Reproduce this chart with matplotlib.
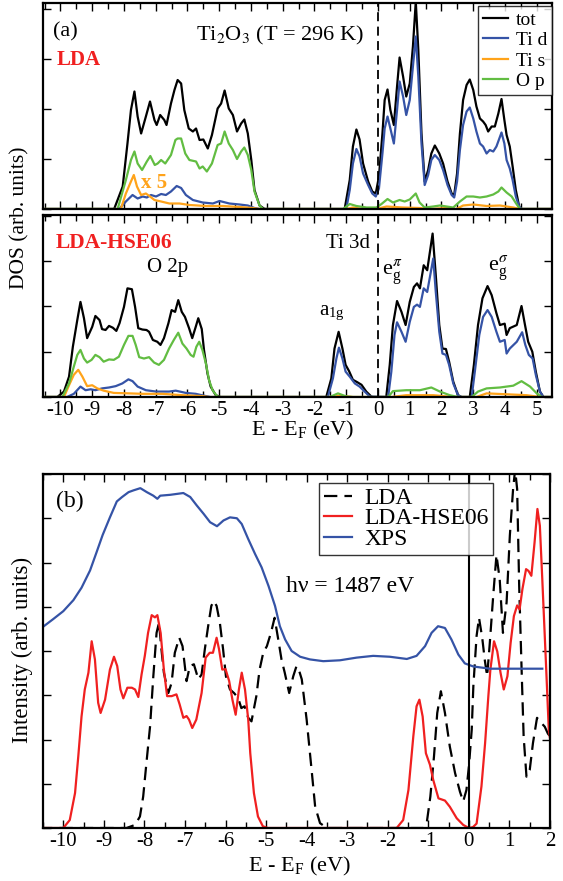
import matplotlib
matplotlib.use("Agg")
import matplotlib.pyplot as plt
from matplotlib.ticker import MultipleLocator

plt.rcParams['font.family'] = ['Liberation Serif', 'DejaVu Serif']
plt.rcParams['mathtext.fontset'] = 'stix'

# ---------------- colours ----------------
C_TOT = "black"
C_TID = "#3553a6"
C_TIS = "#ffa31a"
C_OP = "#62bd42"
C_RED = "#f02020"
C_XPS = "#3553a6"

# ================================
# (a) LDA  -- DOS
# ================================
lda_tot_x = [-10.6, -8.31, -8.04, -7.89, -7.78, -7.67, -7.57, -7.46, -7.31, -7.18, -7.04, -6.97, -6.86,
             -6.73, -6.66, -6.52, -6.41, -6.31, -6.20, -6.10, -5.96, -5.83, -5.73, -5.62, -5.50, -5.36,
             -5.23, -5.05, -4.94, -4.83, -4.70, -4.57, -4.44, -4.31, -4.21, -4.10, -3.99, -3.89, -3.73,
             -3.57, -1.05, -0.89, -0.79, -0.68, -0.58, -0.47, -0.31, -0.18, -0.07, 0.03, 0.14, 0.21, 0.30,
             0.39, 0.50, 0.60, 0.68, 0.79, 0.89, 1.00, 1.10, 1.19, 1.27, 1.37, 1.47, 1.58, 1.68, 1.79,
             1.93, 2.05, 2.19, 2.32, 2.40, 2.49, 2.58, 2.68, 2.79, 2.89, 3.00, 3.10, 3.21, 3.31, 3.39,
             3.47, 3.58, 3.68, 3.79, 3.89, 3.98, 4.05, 4.15, 4.24, 4.34, 4.45, 4.52, 5.6]
lda_tot_y = [0, 0, 0.45, 1.31, 1.98, 2.35, 1.85, 1.51, 1.85, 2.15, 1.78, 1.68, 1.88,
             1.78, 1.68, 2.11, 2.38, 2.58, 2.51, 1.98, 1.61, 1.55, 1.61, 1.38, 1.39, 1.21,
             1.48, 2.01, 2.11, 2.37, 2.01, 1.88, 1.55, 1.71, 1.79, 1.51, 0.98, 0.38, 0.07,
             0, 0, 0.58, 1.25, 1.59, 1.39, 0.91, 0.55, 0.35, 0.31, 0.65, 1.51, 2.18, 2.39,
             1.98, 1.68, 2.45, 3.03, 2.65, 2.25, 2.51, 3.25, 4.15, 3.18, 1.51, 0.55, 0.78, 1.11, 1.27,
             1.11, 0.91, 0.55, 0.31, 0.28, 0.71, 1.51, 2.18, 2.48, 2.59, 2.38, 2.05, 1.81, 1.75, 1.68,
             1.55, 1.65, 1.65, 1.91, 2.20, 1.78, 1.48, 1.25, 0.85, 0.38, 0.04, 0, 0]

lda_tid_x = [-10.6, -8.15, -7.94, -7.73, -7.57, -7.41, -7.28, -7.15, -6.99, -6.83, -6.68, -6.52, -6.34,
             -6.20, -6.05, -5.83, -5.52, -5.20, -4.99, -4.68, -4.36, -4.10, -3.89, -3.73,
             -1.00, -0.89, -0.79, -0.68, -0.58, -0.47, -0.31, -0.18, -0.07, 0.03, 0.14, 0.21, 0.30, 0.39,
             0.50, 0.60, 0.68, 0.79, 0.89, 1.00, 1.10, 1.19, 1.27, 1.37, 1.47, 1.58, 1.68, 1.79, 1.93,
             2.05, 2.19, 2.32, 2.40, 2.49, 2.58, 2.68, 2.79, 2.89, 3.00, 3.10, 3.21, 3.31, 3.42, 3.52,
             3.63, 3.73, 3.89, 3.98, 4.05, 4.15, 4.24, 4.34, 4.45, 4.52, 5.6]
lda_tid_y = [0, 0, 0.15, 0.28, 0.21, 0.25, 0.23, 0.28, 0.25, 0.30, 0.28, 0.35, 0.46,
             0.42, 0.28, 0.18, 0.13, 0.11, 0.16, 0.11, 0.09, 0.07, 0.02, 0,
             0, 0.38, 0.91, 1.20, 1.05, 0.71, 0.48, 0.31, 0.25, 0.41, 1.11, 1.61, 1.85, 1.61,
             1.31, 1.98, 2.55, 2.25, 1.88, 2.18, 2.85, 3.45, 2.65, 1.31, 0.48, 0.68, 0.98, 1.08, 0.98,
             0.78, 0.48, 0.28, 0.23, 0.55, 1.18, 1.68, 1.95, 2.03, 1.81, 1.55, 1.31, 1.25, 1.11, 1.18,
             1.15, 1.25, 1.53, 1.31, 0.98, 0.81, 0.58, 0.25, 0.04, 0, 0]

lda_tis_x = [-10.6, -8.10, -7.94, -7.78, -7.69, -7.59, -7.46, -7.31, -7.18, -7.04, -6.83, -6.57, -6.25,
             -5.94, -5.41, -4.89, -4.36, -3.94, -3.73, -1.00, -0.79, -0.47, -0.05, 0.27, 0.79, 1.31,
             1.63, 2.16, 2.47, 2.68, 3.00, 3.42, 3.84, 4.26, 4.47, 5.6]
lda_tis_y = [0, 0, 0.31, 0.55, 0.68, 0.45, 0.28, 0.31, 0.25, 0.18, 0.15, 0.11, 0.11,
             0.08, 0.06, 0.06, 0.04, 0.02, 0, 0, 0.03, 0, 0, 0.05, 0.03, 0.02,
             0, 0.02, 0, 0.07, 0.09, 0.06, 0.07, 0.03, 0, 0]

lda_op_x = [-10.6, -8.20, -7.94, -7.78, -7.67, -7.57, -7.43, -7.28, -7.17, -7.03, -6.94, -6.83, -6.70,
            -6.52, -6.38, -6.31, -6.20, -6.07, -5.94, -5.73, -5.62, -5.52, -5.39, -5.23, -5.05, -4.94,
            -4.83, -4.70, -4.57, -4.44, -4.31, -4.21, -4.10, -3.99, -3.89, -3.73, -3.62,
            -1.10, -0.89, -0.68, -0.36, -0.05, 0.11, 0.30, 0.47, 0.68, 0.84, 1.00, 1.19, 1.31, 1.47,
            1.74, 1.95, 2.16, 2.37, 2.58, 2.79, 3.00, 3.21, 3.42, 3.63, 3.79, 3.89, 4.05, 4.21, 4.34,
            4.47, 5.6]
lda_op_y = [0, 0, 0.58, 0.98, 1.15, 0.91, 0.78, 0.95, 1.06, 0.88, 0.91, 0.98, 0.91,
            1.08, 1.38, 1.41, 1.41, 1.11, 0.98, 0.95, 0.81, 0.85, 0.75, 0.91, 1.28, 1.31,
            1.55, 1.31, 1.18, 1.00, 1.15, 1.23, 1.08, 0.78, 0.35, 0.07, 0,
            0, 0.10, 0.06, 0.03, 0.03, 0.10, 0.20, 0.13, 0.18, 0.15, 0.19, 0.31, 0.13, 0.03,
            0.05, 0.07, 0.05, 0.03, 0.15, 0.25, 0.25, 0.23, 0.25, 0.29, 0.35, 0.43, 0.33, 0.25, 0.12,
            0, 0]

# ================================
# (a) LDA-HSE06 -- DOS
# ================================
hse_tot_x = [-10.6, -10.10, -9.89, -9.73, -9.61, -9.47, -9.37, -9.26, -9.16, -9.00, -8.90, -8.77, -8.69,
             -8.58, -8.47, -8.35, -8.24, -8.14, -8.00, -7.89, -7.75, -7.65, -7.55, -7.42, -7.29, -7.21,
             -7.09, -6.95, -6.85, -6.74, -6.60, -6.50, -6.39, -6.29, -6.18, -6.08, -5.95, -5.85, -5.74,
             -5.66, -5.55, -5.48, -5.37, -5.27, -5.11, -4.96,
             -1.63, -1.47, -1.37, -1.24, -1.12, -1.02, -0.91, -0.79, -0.66, -0.52, -0.37, -0.21, -0.16,
             0.26, 0.37, 0.47, 0.60, 0.74, 0.87, 1.00, 1.13, 1.23, 1.32, 1.44, 1.55, 1.72, 1.82, 1.93,
             2.03, 2.14, 2.24, 2.37, 2.52, 2.63, 2.89, 3.02, 3.15, 3.29, 3.45, 3.58, 3.73, 3.84, 3.99,
             4.05, 4.15, 4.37, 4.52, 4.63, 4.73, 4.86, 4.97, 5.10, 5.21, 5.6]
hse_tot_y = [0, 0, 0.12, 0.45, 1.11, 1.70, 2.10, 1.74, 1.30, 1.55, 1.79, 1.70, 1.50,
             1.48, 1.57, 1.53, 1.46, 1.63, 1.99, 2.40, 2.38, 1.99, 1.52, 1.49, 1.48, 1.44,
             1.26, 1.22, 1.15, 1.30, 1.63, 1.92, 1.88, 2.14, 1.88, 1.77, 1.52, 1.30, 1.55,
             1.74, 1.50, 1.04, 0.52, 0.23, 0.04, 0,
             0, 0.41, 1.07, 1.44, 1.07, 0.71, 0.57, 0.38, 0.33, 0.27, 0.12, 0.01, 0,
             0, 0.71, 1.59, 2.12, 1.88, 1.59, 2.10, 2.43, 2.51, 2.40, 2.91, 2.80, 3.61, 2.69, 1.59,
             1.07, 1.06, 0.78, 0.34, 0.04, 0, 0, 0.71, 1.59, 2.18, 2.45, 2.25, 1.85, 1.59, 1.62,
             1.37, 1.52, 1.59, 2.01, 1.59, 1.22, 1.00, 0.56, 0.12, 0, 0]

hse_tid_x = [-10.6, -9.79, -9.58, -9.37, -9.21, -9.05, -8.90, -8.69, -8.47, -8.26, -8.05, -7.86, -7.73,
             -7.57, -7.31, -6.99, -6.58, -6.37, -6.05, -5.74, -5.42, -5.27,
             -1.58, -1.42, -1.31, -1.23, -1.12, -1.02, -0.89, -0.73, -0.58, -0.42, -0.26, 0.32, 0.42,
             0.52, 0.60, 0.74, 0.87, 1.00, 1.13, 1.23, 1.32, 1.44, 1.55, 1.74, 1.82, 1.93, 2.03, 2.14,
             2.24, 2.37, 2.52, 2.63, 2.95, 3.05, 3.19, 3.31, 3.45, 3.58, 3.73, 3.84, 3.99, 4.05, 4.15,
             4.37, 4.54, 4.64, 4.75, 4.87, 4.97, 5.10, 5.21, 5.6]
hse_tid_y = [0, 0, 0.07, 0.23, 0.15, 0.17, 0.15, 0.19, 0.21, 0.24, 0.30, 0.39, 0.35,
             0.23, 0.15, 0.12, 0.12, 0.14, 0.09, 0.07, 0.02, 0,
             0, 0.41, 0.85, 1.09, 0.85, 0.56, 0.45, 0.30, 0.23, 0.12, 0.01, 0, 0.56,
             1.37, 1.65, 1.44, 1.22, 1.66, 1.99, 2.04, 1.99, 2.40, 2.32, 3.06, 2.32, 1.44, 0.96, 0.93,
             0.71, 0.30, 0.04, 0, 0, 0.56, 1.37, 1.77, 1.92, 1.77, 1.44, 1.22, 1.26, 0.96, 1.07,
             1.22, 1.43, 1.15, 0.93, 0.85, 0.49, 0.12, 0, 0]

hse_tis_x = [-10.6, -9.89, -9.73, -9.58, -9.44, -9.31, -9.16, -9.00, -8.84, -8.64, -8.32, -7.84, -7.42,
             -6.79, -6.16, -5.53, -5.32, -1.42, -1.21, -0.79, 0.42, 0.89, 1.74, 2.37, 3.10, 3.42, 4.05,
             4.68, 5.10, 5.6]
hse_tis_y = [0, 0, 0.26, 0.49, 0.60, 0.45, 0.24, 0.26, 0.19, 0.14, 0.09, 0.08, 0.07,
             0.07, 0.04, 0.02, 0, 0, 0.03, 0, 0, 0.04, 0.04, 0, 0, 0.08, 0.06,
             0.04, 0, 0]

hse_op_x = [-10.6, -9.94, -9.73, -9.58, -9.47, -9.37, -9.26, -9.16, -9.02, -8.90, -8.77, -8.64, -8.47,
            -8.32, -8.16, -8.00, -7.86, -7.73, -7.63, -7.52, -7.37, -7.21, -7.05, -6.90, -6.74, -6.58,
            -6.43, -6.29, -6.16, -6.03, -5.90, -5.81, -5.72, -5.63, -5.53, -5.42, -5.32, -5.21, -5.06,
            -4.96, -1.52, -1.26, -0.99, -0.79, 0.32, 0.47, 0.89, 1.32, 1.68, 1.95, 2.26, 2.52, 2.95,
            3.15, 3.42, 3.84, 4.26, 4.52, 4.79, 5.00, 5.15, 5.6]
hse_op_y = [0, 0, 0.30, 0.67, 0.93, 1.04, 0.85, 0.76, 0.82, 0.93, 0.88, 0.78, 0.83,
            0.82, 0.89, 1.15, 1.35, 1.35, 1.15, 0.88, 0.85, 0.88, 0.76, 0.71, 0.82, 1.07,
            1.26, 1.42, 1.18, 1.07, 0.93, 0.89, 1.11, 1.22, 1.04, 0.74, 0.37, 0.15, 0.01,
            0, 0, 0.08, 0.01, 0, 0, 0.13, 0.15, 0.15, 0.21, 0.12, 0.04, 0, 0,
            0.12, 0.19, 0.21, 0.25, 0.35, 0.23, 0.08, 0, 0]

# ================================
# (b) spectra
# ================================
xps_x = [-10.48, -10.25, -10.00, -9.75, -9.55, -9.34, -9.18, -9.03, -8.85, -8.68, -8.55, -8.39, -8.27,
         -8.10, -7.94, -7.78, -7.68, -7.61, -7.36, -7.04, -6.87, -6.71, -6.54, -6.38, -6.21, -6.05,
         -5.89, -5.72, -5.60, -5.44, -5.27, -5.11, -4.94, -4.78, -4.66, -4.53, -4.37, -4.16, -3.92,
         -3.59, -3.18, -2.77, -2.36, -1.95, -1.53, -1.29, -1.08, -0.92, -0.76, -0.59, -0.43, -0.26,
         -0.10, 0.11, 0.52, 0.93, 1.34, 1.81]
xps_y = [4.56, 4.72, 4.90, 5.15, 5.43, 5.82, 6.23, 6.62, 7.02, 7.38, 7.48, 7.59, 7.63,
         7.68, 7.59, 7.51, 7.44, 7.51, 7.53, 7.57, 7.48, 7.29, 7.10, 6.91, 6.82, 6.95,
         7.02, 7.00, 6.87, 6.53, 6.19, 5.89, 5.47, 5.02, 4.56, 4.26, 4.00, 3.87, 3.81,
         3.77, 3.79, 3.85, 3.89, 3.87, 3.82, 3.89, 4.11, 4.41, 4.56, 4.52, 4.26, 3.92,
         3.72, 3.65, 3.60, 3.60, 3.60, 3.60]

hse_b_x = [-10.6, -10.00, -9.84, -9.71, -9.63, -9.55, -9.47, -9.38, -9.30, -9.22, -9.14, -9.08, -8.97,
           -8.85, -8.75, -8.67, -8.59, -8.52, -8.42, -8.31, -8.23, -8.15, -8.07, -7.99, -7.91, -7.82,
           -7.74, -7.68, -7.60, -7.52, -7.44, -7.33, -7.21, -7.13, -7.04, -6.96, -6.90, -6.82, -6.72,
           -6.59, -6.49, -6.39, -6.31, -6.22, -6.16, -6.08, -6.00, -5.91, -5.83, -5.75, -5.67, -5.60,
           -5.52, -5.44, -5.39, -5.30, -5.20, -5.08, -4.96,
           -1.78, -1.62, -1.49, -1.37, -1.29, -1.22, -1.14, -1.06, -0.96, -0.88, -0.75, -0.59, -0.47,
           -0.30, -0.14, 0.00, 0.10, 0.19, 0.31, 0.40, 0.48, 0.53, 0.62, 0.70, 0.78, 0.86, 0.95, 1.03,
           1.11, 1.19, 1.25, 1.32, 1.41, 1.47, 1.54, 1.62, 1.69, 1.75, 1.81, 1.90, 1.97, 2.02]
hse_b_y = [0, 0, 0.18, 0.79, 1.62, 2.52, 3.13, 3.51, 4.22, 3.81, 2.83, 2.60, 2.90,
           3.58, 3.87, 3.66, 3.13, 2.93, 3.17, 3.17, 3.13, 2.96, 3.47, 3.89, 4.41, 4.81,
           4.76, 4.81, 4.41, 3.58, 2.98, 2.98, 3.02, 2.79, 2.49, 2.53, 2.45, 2.26, 2.45,
           3.05, 3.85, 3.96, 3.96, 4.30, 4.04, 3.58, 3.59, 3.32, 2.90, 2.56, 3.13, 3.51,
           3.13, 2.45, 1.69, 0.79, 0.26, 0.04, 0,
           0, 0.18, 0.86, 2.07, 2.75, 2.90, 2.52, 1.69, 1.43, 1.09, 0.67, 0.62, 0.48,
           0.22, 0.07, 0, 0.02, 0.10, 0.94, 1.92, 2.98, 3.58, 4.22, 3.99, 3.51, 3.13, 3.43, 4.19,
           4.79, 5.03, 4.94, 5.40, 5.85, 5.81, 5.70, 6.46, 7.21, 6.83, 5.62, 3.73, 2.22, 1.90]

lda_b_x = [-10.6, -8.44, -8.23, -8.11, -8.03, -7.95, -7.86, -7.78, -7.70, -7.64, -7.58, -7.52, -7.41,
           -7.33, -7.25, -7.14, -7.06, -6.96, -6.88, -6.78, -6.67, -6.59, -6.51, -6.43, -6.35, -6.29,
           -6.22, -6.14, -6.06, -5.99, -5.89, -5.79, -5.69, -5.61, -5.53, -5.44, -5.36, -5.24, -5.16,
           -5.07, -4.98, -4.88, -4.79, -4.70, -4.62, -4.54, -4.43, -4.33, -4.25, -4.17, -4.12, -4.00,
           -3.87, -3.79, -3.67, -3.50,
           -1.12, -1.04, -0.95, -0.86, -0.78, -0.69, -0.59, -0.47, -0.34, -0.22, -0.14, -0.06, 0.00,
           0.02, 0.07, 0.11, 0.19, 0.25, 0.33, 0.39, 0.45, 0.51, 0.60, 0.68, 0.76, 0.84, 0.93, 1.01,
           1.09, 1.14, 1.19, 1.24, 1.30, 1.35, 1.42, 1.50, 1.58, 1.68, 1.79, 1.87, 1.95, 2.02]
lda_b_y = [0, 0, 0.07, 0.26, 0.71, 1.47, 2.30, 3.43, 4.41, 4.64, 4.04, 3.51, 3.05,
           3.28, 3.96, 4.30, 4.11, 3.32, 3.66, 3.70, 3.36, 3.47, 4.04, 4.55, 5.02, 5.13,
           5.02, 4.64, 4.04, 3.43, 3.13, 3.05, 2.94, 2.71, 2.75, 2.49, 2.41, 2.98, 3.58,
           3.96, 4.11, 4.41, 4.75, 4.26, 3.81, 3.51, 3.05, 3.43, 3.66, 3.51, 3.36, 2.45,
           1.24, 0.48, 0.11, 0,
           0, 0.11, 0.71, 1.62, 2.60, 3.09, 2.60, 1.84, 1.24, 0.82, 0.60, 0.86, 1.39,
           1.62, 2.22, 3.20, 4.34, 4.75, 4.29, 3.81, 3.43, 4.11, 5.25, 6.17, 5.62, 4.41, 5.10, 6.61,
           7.66, 8.10, 7.66, 5.47, 3.58, 2.07, 1.16, 1.31, 1.92, 2.49, 2.37, 2.29, 2.13, 2.05]

# ================================
# figure
# ================================
W, H = 563, 881
fig = plt.figure(figsize=(W / 100, H / 100), dpi=100)


def box(l, t, r, b):
    return [l / W, 1 - b / H, (r - l) / W, (b - t) / H]


ax1 = fig.add_axes(box(43, 3, 552, 209))
ax2 = fig.add_axes(box(43, 215, 552, 397))
ax3 = fig.add_axes(box(43, 474, 550, 828))

LW = 1.6
for ax, sets in [(ax1, [(lda_tot_x, lda_tot_y, C_TOT, "tot"),
                        (lda_tid_x, lda_tid_y, C_TID, "Ti d"),
                        (lda_tis_x, lda_tis_y, C_TIS, "Ti s"),
                        (lda_op_x, lda_op_y, C_OP, "O p")]),
                 (ax2, [(hse_tot_x, hse_tot_y, C_TOT, "tot"),
                        (hse_tid_x, hse_tid_y, C_TID, "Ti d"),
                        (hse_tis_x, hse_tis_y, C_TIS, "Ti s"),
                        (hse_op_x, hse_op_y, C_OP, "O p")])]:
    for xs, ys, c, lab in sets:
        ax.plot(xs, ys, color=c, lw=LW, label=lab, solid_joinstyle="round")
    ax.axvline(0, color="black", lw=1.3, ls=(0, (5, 3)))
    ax.set_xlim(-10.55, 5.48)
    ax.xaxis.set_major_locator(MultipleLocator(1))
    ax.xaxis.set_minor_locator(MultipleLocator(0.5))
    ax.yaxis.set_major_locator(MultipleLocator(1))
    ax.set_yticklabels([])

ax1.set_ylim(0, 4.12)
ax2.set_ylim(0, 4.02)
ax1.set_xticklabels([])

ax3.plot(lda_b_x, lda_b_y, color="black", lw=LW, ls=(0, (6, 3.2)), label="LDA")
ax3.plot(hse_b_x, hse_b_y, color=C_RED, lw=LW, label="LDA-HSE06", solid_joinstyle="round")
ax3.plot(xps_x, xps_y, color=C_XPS, lw=LW, label="XPS", solid_joinstyle="round")
ax3.axvline(0, color="black", lw=1.5)
ax3.set_xlim(-10.5, 2.0)
ax3.set_ylim(0, 8.0)
ax3.xaxis.set_major_locator(MultipleLocator(1))
ax3.xaxis.set_minor_locator(MultipleLocator(0.5))
ax3.yaxis.set_major_locator(MultipleLocator(1))
ax3.set_yticklabels([])

for ax in (ax1, ax2, ax3):
    ax.tick_params(which="both", direction="in", top=True, right=True, width=1.0)
    ax.tick_params(which="major", length=6)
    ax.tick_params(which="minor", length=4)
    ax.tick_params(axis="x", labelsize=15, pad=3)
    for s in ax.spines.values():
        s.set_linewidth(1.6)

ax2.set_xticks(range(-10, 6))
ax2.set_xticklabels([str(v) for v in range(-10, 6)])
ax3.set_xticks(range(-10, 3))
ax3.set_xticklabels([str(v) for v in range(-10, 3)])

# legends
leg1 = ax1.legend(loc="upper right", bbox_to_anchor=(1.0, 0.985), fontsize=14, frameon=True,
                  fancybox=False, edgecolor="black", handlelength=1.3, handletextpad=0.4,
                  labelspacing=0.15, borderpad=0.25, borderaxespad=0)
leg1.get_frame().set_linewidth(1.0)
leg3 = ax3.legend(loc="upper right", bbox_to_anchor=(0.888, 0.975), fontsize=17, frameon=True,
                  fancybox=False, edgecolor="black", handlelength=1.2, handletextpad=0.5,
                  labelspacing=-0.05, borderpad=0.2, borderaxespad=0)
leg3.get_frame().set_linewidth(1.0)

# annotations panel (a)
ax1.text(-9.86, 3.54, "(a)", fontsize=16, ha="center", va="center")
ax1.text(-9.44, 2.98, "LDA", fontsize=15, fontweight="bold", color=C_RED, ha="center", va="center")
ax1.text(-3.10, 3.48, "Ti$_2$O$_3$ (T = 296 K)", fontsize=16, ha="center", va="center")
ax1.text(-7.05, 0.52, "x 5", fontsize=15, fontweight="bold", color=C_TIS, ha="center", va="center")

ax2.text(-8.31, 3.40, "LDA-HSE06", fontsize=15.5, fontweight="bold", color=C_RED, ha="center", va="center")
ax2.text(-6.64, 2.85, "O 2p", fontsize=15, ha="center", va="center")
ax2.text(-0.96, 3.40, "Ti 3d", fontsize=15, ha="center", va="center")
ax2.text(-1.46, 1.85, "a$_{\\mathregular{1g}}$", fontsize=15, ha="center", va="center")
ax2.text(0.46, 2.76, "e$_{\\mathregular{g}}^{\\pi}$", fontsize=16, ha="center", va="center")
ax2.text(3.78, 2.85, "e$_{\\mathregular{g}}^{\\sigma}$", fontsize=16, ha="center", va="center")

ax3.text(-9.83, 7.39, "(b)", fontsize=17, ha="center", va="center")
ax3.text(-2.93, 5.46, "hν = 1487 eV", fontsize=17, ha="center", va="center")

# axis labels
fig.text(20 / W, 1 - 218 / H, "DOS (arb. units)", fontsize=15.5, rotation=90, ha="center", va="center")
fig.text(303 / W, 1 - 430 / H, "E - E$_\\mathregular{F}$ (eV)", fontsize=16, ha="center", va="center")
fig.text(22 / W, 1 - 650 / H, "Intensity (arb. units)", fontsize=16.5, rotation=90, ha="center", va="center")
fig.text(300 / W, 1 - 866 / H, "E - E$_\\mathregular{F}$ (eV)", fontsize=16, ha="center", va="center")

fig.savefig("out.png", dpi=100)
